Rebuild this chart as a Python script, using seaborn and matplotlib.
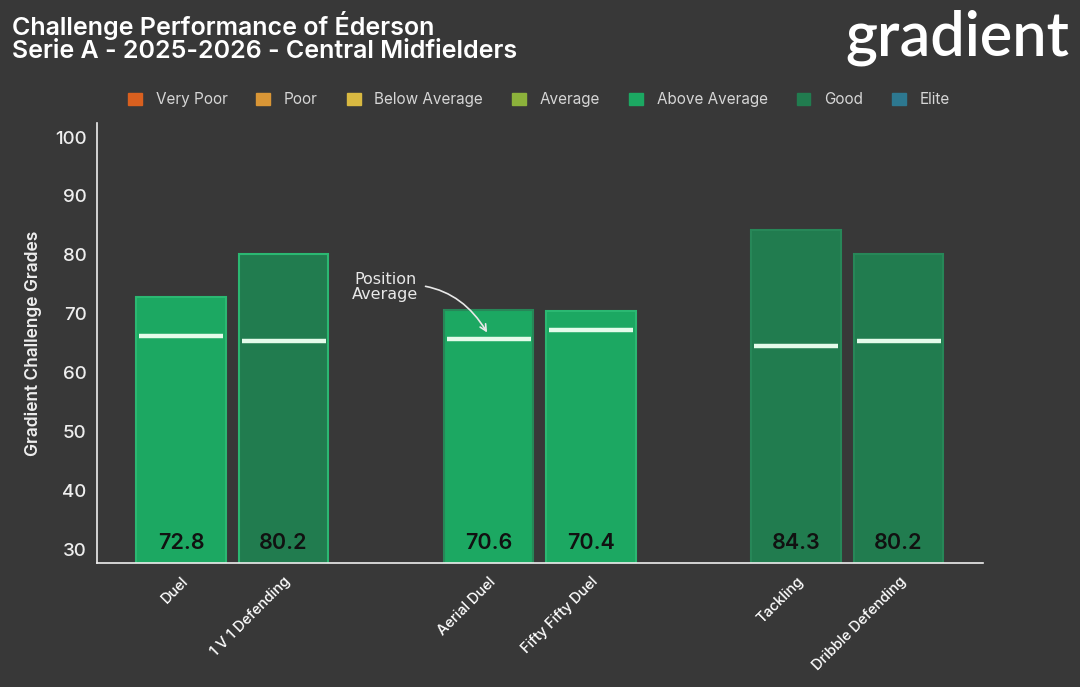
import pandas as pd
import matplotlib.pyplot as plt
import matplotlib.patches as mpatches
import seaborn as sns

# data
metrics = ['Duel', '1 V 1 Defending', 'Aerial Duel', 'Fifty Fifty Duel', 'Tackling', 'Dribble Defending']
positions = [0, 1, 3, 4, 6, 7]
grades = [72.8, 80.2, 70.6, 70.4, 84.3, 80.2]
position_avg = [66.2, 65.3, 65.7, 67.2, 64.5, 65.3]
grade_band = ['Above Average', 'Good', 'Above Average', 'Above Average', 'Good', 'Good']

bands = ['Very Poor', 'Poor', 'Below Average', 'Average', 'Above Average', 'Good', 'Elite']
band_colors = ['#d9601f', '#d99636', '#d9b941', '#8cb23b', '#1ca862', '#217c4f', '#2d7890']
edge_colors = {'Above Average': '#2bb872', 'Good': '#278758'}

bg = '#383838'
df = pd.DataFrame({'pos': positions, 'grade': grades, 'band': grade_band})

sns.set_style('dark')
plt.rcParams['font.family'] = ['Inter', 'DejaVu Sans']

fig = plt.figure(figsize=(10.8, 6.87), dpi=100, facecolor=bg)
ax = fig.add_axes([0.0898, 0.180, 0.820, 0.641])
ax.set_facecolor(bg)

sns.barplot(data=df, x='pos', y='grade', hue='band', palette=dict(zip(bands, band_colors)),
            native_scale=True, width=0.87, dodge=False, legend=False, saturation=1, ax=ax)

for bar, band in zip(ax.patches, grade_band):
    bar.set_edgecolor(edge_colors[band])
    bar.set_linewidth(1.5)

# position average lines
ax.hlines(position_avg, [p - 0.41 for p in positions], [p + 0.41 for p in positions],
          color='#e4fbea', linewidth=3.2, zorder=5)

for p, g in zip(positions, grades):
    ax.text(p, 31.0, f'{g:.1f}', ha='center', va='center', fontsize=15.5,
            fontweight='semibold', color='#111111', zorder=6)

ax.set_ylim(27.6, 102.4)
ax.set_xlim(-0.82, 7.82)
ax.set_yticks([30, 40, 50, 60, 70, 80, 90, 100])
ax.set_xticks(positions)
ax.set_xticklabels(metrics, rotation=45, ha='right', rotation_mode='anchor',
                   fontweight='medium', fontsize=10.5, color='white')
ax.tick_params(axis='y', colors='white', labelsize=13.5, length=4, width=1)
ax.tick_params(axis='x', colors='white', length=5, width=1, pad=3)
for lab in ax.get_yticklabels():
    lab.set_color('#eeeeee')
    lab.set_fontweight('medium')
ax.set_xlabel('')
ax.set_ylabel('Gradient Challenge Grades', color='#eeeeee', fontsize=12.5,
              fontweight='semibold', labelpad=9)
ax.grid(False)
for s in ['top', 'right']:
    ax.spines[s].set_visible(False)
for s in ['left', 'bottom']:
    ax.spines[s].set_color('#eeeeee')
    ax.spines[s].set_linewidth(1.2)

ax.annotate('Position\nAverage', xy=(3.0, 66.4), xytext=(1.99, 74.6),
            ha='center', va='center', fontsize=11.5, color='#e8e8e8',
            family='DejaVu Sans', linespacing=1.0,
            arrowprops=dict(arrowstyle='->', color='#e8e8e8', lw=1.2,
                            connectionstyle='arc3,rad=-0.35', shrinkA=3, shrinkB=2))

handles = [mpatches.Patch(facecolor=c, edgecolor=c, label=b) for b, c in zip(bands, band_colors)]
fig.legend(handles=handles, loc='center', bbox_to_anchor=(0.499, 0.855), ncol=7,
           frameon=False, fontsize=11, labelcolor='#d6d6d6', handlelength=0.9,
           handleheight=0.9, columnspacing=1.9, handletextpad=0.9)

fig.text(0.011, 0.949, 'Challenge Performance of Éderson', fontsize=18, fontweight='semibold',
         color='white', va='baseline')
fig.text(0.011, 0.916, 'Serie A - 2025-2026 - Central Midfielders', fontsize=18,
         fontweight='semibold', color='white', va='baseline')
fig.text(0.990, 0.945, 'gradient', fontsize=44, fontweight='semibold', color='white',
         ha='right', va='center', family=['Lato', 'DejaVu Sans'])

fig.savefig('out.png', dpi=100, facecolor=bg)
